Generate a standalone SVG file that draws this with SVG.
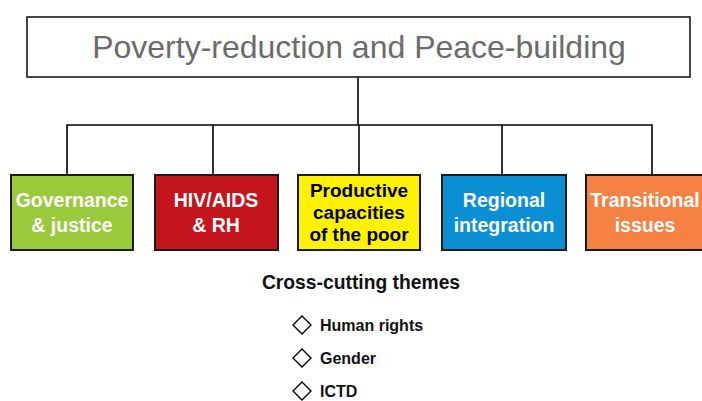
<svg xmlns="http://www.w3.org/2000/svg" width="702" height="401" viewBox="0 0 702 401">
  <style>
    .title { font-family: "Liberation Sans", Arial, sans-serif; font-size: 32px; fill: #6b6b6b; }
    .box { stroke: #1a1a1a; stroke-width: 2; }
    .lbl { font-family: "Liberation Sans", Arial, sans-serif; font-weight: bold; font-size: 19.5px; fill: #ffffff; text-anchor: middle; }
    .dark { fill: #000000; font-size: 19px; }
    .head { font-family: "Liberation Sans", Arial, sans-serif; font-weight: bold; font-size: 19.3px; fill: #111111; text-anchor: middle; }
    .item { font-family: "Liberation Sans", Arial, sans-serif; font-weight: bold; font-size: 16px; fill: #111111; }
    .conn { fill: none; stroke: #000000; stroke-width: 1.6; }
    .diamond { fill: #ffffff; stroke: #000000; stroke-width: 1.4; }
  </style>

  <rect width="702" height="401" fill="#ffffff"/>

  <!-- connectors: root stem, horizontal bus and drops to each theme -->
  <g id="connectors">
    <path class="conn" d="M358 77 V125"/>
    <path class="conn" d="M67 175 V125 H652 V175"/>
    <path class="conn" d="M213 125 V175"/>
    <path class="conn" d="M359 125 V175"/>
    <path class="conn" d="M502 125 V175"/>
  </g>

  <g id="root">
    <rect x="27" y="17" width="663" height="60" fill="#ffffff" stroke="#1a1a1a" stroke-width="1.6"/>
    <text class="title" x="359" y="58" text-anchor="middle">Poverty-reduction and Peace-building</text>
  </g>

  <g id="governance">
    <rect class="box" x="11" y="175" width="122" height="75" fill="#9aca3c"/>
    <text class="lbl" x="72" y="207">Governance</text>
    <text class="lbl" x="72" y="232">&amp; justice</text>
  </g>

  <g id="hiv-aids">
    <rect class="box" x="155" y="175" width="123" height="75" fill="#c4141c"/>
    <text class="lbl" x="216" y="207">HIV/AIDS</text>
    <text class="lbl" x="216" y="232">&amp; RH</text>
  </g>

  <g id="productive">
    <rect class="box" x="298" y="175" width="122" height="75" fill="#fff200"/>
    <text class="lbl dark" x="359" y="197">Productive</text>
    <text class="lbl dark" x="359" y="219">capacities</text>
    <text class="lbl dark" x="359" y="241">of the poor</text>
  </g>

  <g id="regional">
    <rect class="box" x="442" y="175" width="124" height="75" fill="#0a8fd4"/>
    <text class="lbl" x="504" y="207">Regional</text>
    <text class="lbl" x="504" y="232">integration</text>
  </g>

  <g id="transitional">
    <rect class="box" x="586" y="175" width="125" height="75" fill="#f58142"/>
    <text class="lbl" x="645" y="207">Transitional</text>
    <text class="lbl" x="645" y="232">issues</text>
  </g>

  <g id="cross-cutting">
    <text class="head" x="361" y="289">Cross-cutting themes</text>
    <path class="diamond" d="M302 316 L311 325 L302 334 L293 325 Z"/>
    <text class="item" x="320" y="331">Human rights</text>
    <path class="diamond" d="M302 349 L311 358 L302 367 L293 358 Z"/>
    <text class="item" x="320" y="364">Gender</text>
    <path class="diamond" d="M302 382 L311 391 L302 400 L293 391 Z"/>
    <text class="item" x="320" y="397">ICTD</text>
  </g>
</svg>
